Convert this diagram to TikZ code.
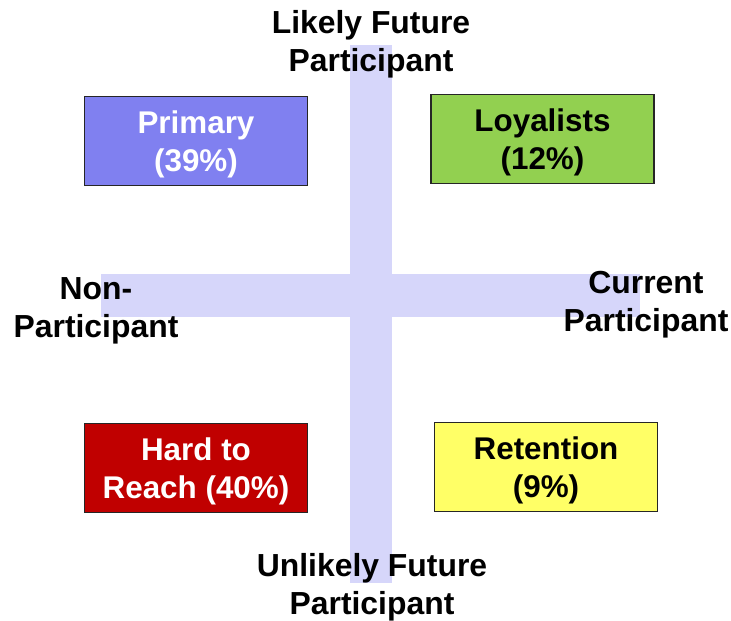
\documentclass[tikz,border=0pt]{standalone}
\usepackage{fontspec}
\setmainfont{Liberation Sans}
\usepackage{tikz}

\definecolor{barcol}{RGB}{214,214,250}
\definecolor{primcol}{RGB}{128,128,240}
\definecolor{loyalcol}{RGB}{146,208,80}
\definecolor{hardcol}{RGB}{192,0,0}
\definecolor{retcol}{RGB}{255,255,102}

\begin{document}
\begin{tikzpicture}
  [x=1bp,y=-1bp,
   every node/.style={align=center,inner sep=0pt,font=\fontsize{32}{38}\selectfont\bfseries},
   segbox/.style={draw=black!85,line width=1.3pt,minimum width=223bp,minimum height=89bp,
                  text depth=0pt,font=\fontsize{31.5}{38}\selectfont\bfseries}]
  \useasboundingbox (0,0) rectangle (731,621);
  % the two axes
  \fill[barcol] (350,45) rectangle (392,583);
  \fill[barcol] (101,274) rectangle (640,317);
  % quadrants
  \node[segbox,fill=primcol,text=white] (primary) at (196,141) {Primary\\(39\%)};
  \node[segbox,fill=loyalcol] (loyal) at (542.5,139) {Loyalists\\(12\%)};
  \node[segbox,fill=hardcol,text=white] (hard) at (196,468) {Hard to\\Reach (40\%)};
  \node[segbox,fill=retcol] (retention) at (546,467) {Retention\\(9\%)};
  % axis ends
  \node (likely) at (371,44) {Likely Future\\Participant};
  \node (unlikely) at (372,587.5) {Unlikely Future\\Participant};
  \node (nonpart) at (96,310.5) {Non-\\Participant};
  \node (current) at (646,305) {Current\\Participant};
\end{tikzpicture}
\end{document}
